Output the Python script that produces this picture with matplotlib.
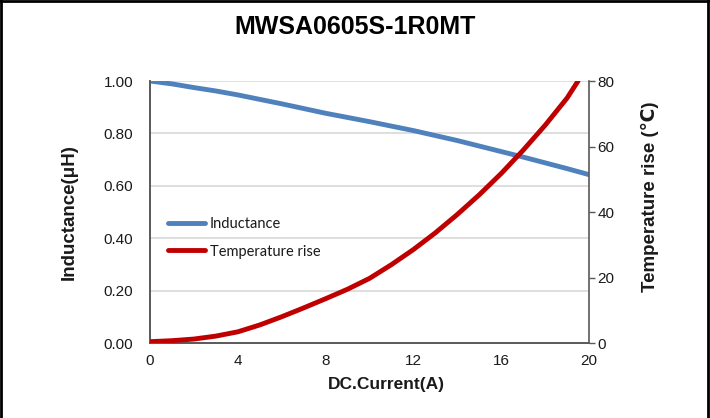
import matplotlib.pyplot as plt
from matplotlib.lines import Line2D

# Values
current = [0, 1, 2, 3, 4, 5, 6, 7, 8, 9, 10, 11, 12, 13, 14, 15, 16, 17, 18, 19, 20]
inductance = [1.000, 0.989, 0.975, 0.962, 0.947, 0.930, 0.913, 0.895, 0.877, 0.861, 0.845,
              0.828, 0.811, 0.792, 0.773, 0.752, 0.731, 0.710, 0.688, 0.666, 0.643]

current_t = [0, 1, 2, 3, 4, 5, 6, 7, 8, 9, 10, 11, 12, 13, 14, 15, 16, 17, 18, 19, 19.5]
temp_rise = [0.5, 0.8, 1.3, 2.2, 3.5, 5.6, 8.1, 10.8, 13.6, 16.5, 19.8, 24.0, 28.6, 33.7,
             39.3, 45.3, 51.8, 58.9, 66.5, 74.8, 80]

x_ticks = [0, 4, 8, 12, 16, 20]
l_ticks = [0.0, 0.2, 0.4, 0.6, 0.8, 1.0]
r_ticks = [0, 20, 40, 60, 80]

plt.rcParams['font.family'] = ['Liberation Sans', 'DejaVu Sans']
txt = '#1a1a1a'
spine = '#595959'

fig = plt.figure(figsize=(7.1, 4.18), dpi=100)
ax = fig.add_axes([0.2113, 0.1787, 0.6183, 0.6275])
ax2 = ax.twinx()

l1, = ax.plot(current, inductance, color='#4f81bd', lw=3.5, label='Inductance',
              solid_capstyle='round', solid_joinstyle='round', zorder=3)
l2, = ax2.plot(current_t, temp_rise, color='#c00000', lw=3.5, label='Temperature rise',
               solid_capstyle='round', solid_joinstyle='round', zorder=3)

ax.set_xlim(0, 20)
ax.set_ylim(0, 1.0)
ax2.set_ylim(0, 80)
ax.set_xticks(x_ticks)
ax.set_yticks(l_ticks)
ax.set_yticklabels([f'{v:.2f}' for v in l_ticks])
ax2.set_yticks(r_ticks)

for v in l_ticks[1:]:
    ax.axhline(v, color='#d9d9d9', lw=1.2, zorder=1)

ax.tick_params(axis='x', length=0, pad=8, labelsize=11, labelcolor=txt)
ax.tick_params(axis='y', length=0, pad=12, labelsize=11, labelcolor=txt)
ax2.tick_params(axis='y', length=4, width=1, color=spine, pad=2, labelsize=11, labelcolor=txt)

for a in (ax, ax2):
    a.spines['top'].set_visible(False)
    for s in ('left', 'right', 'bottom'):
        a.spines[s].set_color(spine)
        a.spines[s].set_linewidth(1.2)
ax.spines['right'].set_visible(False)

ax.set_xlabel('DC.Current(A)', fontsize=12.5, fontweight='bold', color=txt)
ax.xaxis.set_label_coords(0.538, -0.13)
ax.set_ylabel('Inductance(μH)', fontsize=13.5, fontweight='bold', color=txt)
ax.yaxis.set_label_coords(-0.164, 0.5)
ax2.set_ylabel('Temperature rise (℃)', fontsize=13.5, fontweight='bold', color=txt)
ax2.yaxis.set_label_coords(1.118, 0.56)

fig.text(0.5, 0.935, 'MWSA0605S-1R0MT', ha='center', va='center',
         fontsize=18, fontweight='bold', color='black')

ax.legend(handles=[l1, l2], loc='upper left', bbox_to_anchor=(0.01, 0.53),
          frameon=False, prop={'family': 'Lato', 'size': 10.5},
          handlelength=2.6, handletextpad=0.3, labelspacing=0.9, labelcolor=txt)

# outer frame of the picture
fig.add_artist(Line2D([0.002, 0.002], [0, 1], transform=fig.transFigure, color='black', lw=2))
fig.add_artist(Line2D([0.997, 0.997], [0, 1], transform=fig.transFigure, color='black', lw=2))
fig.add_artist(Line2D([0, 1], [0.998, 0.998], transform=fig.transFigure, color='black', lw=2))

fig.savefig('out.png', dpi=100)
